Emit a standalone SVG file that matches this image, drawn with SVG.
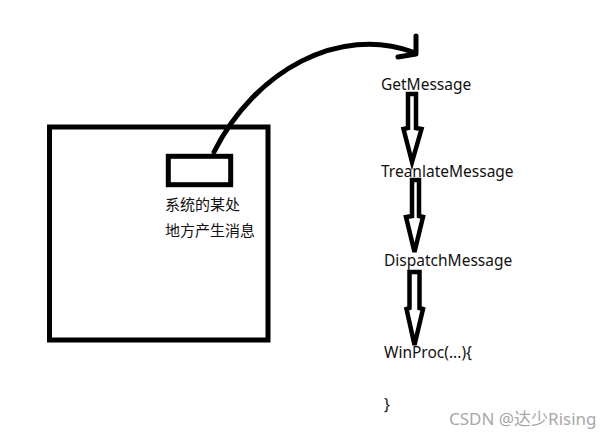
<svg xmlns="http://www.w3.org/2000/svg" width="613" height="438" viewBox="0 0 613 438">
<style>
.box{fill:none;stroke:#000;stroke-width:5}
.t{font-family:"Noto Sans","Noto Sans CJK SC",sans-serif;font-size:15.5px;fill:#111}
.cj{font-family:"Noto Sans CJK SC","Noto Sans",sans-serif;font-size:15px;fill:#111}
.blk{fill:#fff;stroke:#000;stroke-width:4.5;stroke-linejoin:miter}
.crv{fill:none;stroke:#000;stroke-width:5;stroke-linecap:round;stroke-linejoin:round}
.wm{font-family:"Noto Sans","Noto Sans CJK SC",sans-serif;font-size:17px;fill:#a8a8a8}
</style>
<rect width="613" height="438" fill="#fff"/>
<g id="system">
<rect class="box" x="49.5" y="127" width="218.5" height="213"/>
</g>
<g id="source">
<rect class="box" x="168.3" y="156.3" width="62.4" height="28.4"/>
<text class="cj" x="165" y="210">系统的某处</text>
<text class="cj" x="165" y="236">地方产生消息</text>
</g>
<g id="getmessage"><text class="t" x="381" y="90">GetMessage</text></g>
<g id="translatemessage"><text class="t" x="381" y="177">TreanlateMessage</text></g>
<g id="dispatchmessage"><text class="t" x="384" y="266">DispatchMessage</text></g>
<g id="winproc">
<text class="t" x="384" y="358">WinProc(...){</text>
<text class="t" x="384" y="410">}</text>
</g>
<g id="connectors">
<path class="crv" d="M214,152 C255,70 340,25 413,52"/>
<path class="crv" d="M416,36 L416,54 L398,57"/>
<polygon class="blk" points="408,94 416,94 416,128 421.5,129 412,162 403.5,129 408,128"/>
<polygon class="blk" points="412,180 419,180 419,216 423,217 414.5,252 406,217 412,216"/>
<polygon class="blk" points="409.5,272 419.5,272 419.5,308 423,309 414.5,345 406.5,309 409.5,308"/>
</g>
<text class="wm" x="449" y="425">CSDN @达少Rising</text>
</svg>
